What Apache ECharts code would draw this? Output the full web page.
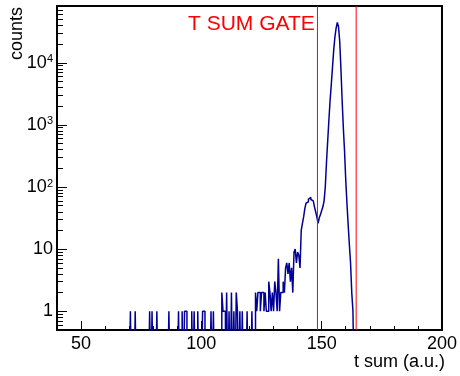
<!DOCTYPE html>
<html>
<head>
<meta charset="utf-8">
<script src="https://cdn.jsdelivr.net/npm/echarts@6/dist/echarts.min.js"></script>
<style>
  html, body { margin: 0; padding: 0; background: #fff; }
  #chart { width: 460px; height: 376px; }
</style>
</head>
<body>
<div id="chart"></div>
<script>
// t-sum histogram: 0.5 a.u. bins on [40, 200]; only non-empty bins are listed
const xRange = [40, 200];
const yRange = [0.5, 82000];
const binWidth = 0.5;

// low edge of each non-empty bin
const filledBinEdges = [
  70.5, 72.5, 78.5, 79.5, 81.5, 86.5, 90.5, 92.0, 93.0, 93.5,
  96.0, 97.0, 98.5, 100.5, 101.0, 104.0, 105.0, 108.5, 109.0, 109.5,
  110.5, 111.5, 112.5, 113.5, 114.5, 115.0, 116.0, 117.0, 119.0, 121.0,
  122.5, 123.0, 123.5, 124.0, 124.5, 125.0, 125.5, 126.0, 126.5, 127.0,
  127.5, 128.0, 128.5, 129.0, 129.5, 130.0, 130.5, 131.0, 131.5, 132.0,
  132.5, 133.0, 133.5, 134.0, 134.5, 135.0, 135.5, 136.0, 136.5, 137.0,
  137.5, 138.0, 138.5, 139.0, 139.5, 140.0, 140.5, 141.0, 141.5, 142.0,
  142.5, 143.0, 143.5, 144.0, 144.5, 145.0, 145.5, 146.0, 146.5, 147.0,
  147.5, 148.0, 148.5, 149.0, 149.5, 150.0, 150.5, 151.0, 151.5, 152.0,
  152.5, 153.0, 153.5, 154.0, 154.5, 155.0, 155.5, 156.0, 156.5, 157.0,
  157.5, 158.0, 158.5, 159.0, 159.5, 160.0, 160.5, 161.0, 161.5, 162.0,
  162.5, 163.0
];
// counts in those bins
const filledBinCounts = [
  1, 1, 1, 1, 1, 1, 1, 1, 1, 1,
  1, 1, 1, 1, 1, 1, 1, 2, 1, 1,
  2, 1, 2, 1, 2, 1, 1, 1, 1, 1,
  2, 1, 2, 2, 1, 2, 2, 1, 2, 1,
  1, 3, 2, 1, 2, 1, 3, 2, 1, 7,
  1, 2, 2, 3, 2, 5, 6, 4, 6, 3,
  5, 2, 9, 10, 6, 9, 8, 5, 20, 26,
  33, 45, 55, 58, 64, 68, 63, 60, 56, 48,
  40, 33, 26, 32, 36, 42, 48, 60, 100, 250,
  550, 1200, 2500, 4500, 8500, 16000, 26000, 36000, 44500, 38000,
  22000, 8000, 2500, 900, 380, 130, 55, 25, 12, 6,
  2, 1
];

const xTickLabels = [50, 100, 150, 200];
const xMinorTicks = [40, 50, 60, 70, 80, 90, 100, 110, 120, 130, 140, 150, 160, 170, 180, 190, 200];
const yTickLabels = [1, 10, 100, 1000, 10000];
const gateEdges = [148.25, 164.33];

const FONT = '"Liberation Sans", Arial, Helvetica, sans-serif';
const LINE_BLUE = '#000099';
const GATE_RED = '#ff0000';

// 2..9 × 10^k between the axis limits
const yMinorTicks = [];
[0.1, 1, 10, 100, 1000, 10000].forEach(d => {
  for (let m = 2; m <= 9; m++) {
    const v = +(m * d).toPrecision(3);
    if (v > yRange[0] && v < yRange[1]) yMinorTicks.push(v);
  }
});

// full bin table → step outline; empty bins drop below the log axis floor
const nBins = Math.round((xRange[1] - xRange[0]) / binWidth);
const counts = new Array(nBins).fill(0);
filledBinEdges.forEach((edge, i) => {
  counts[Math.round((edge - xRange[0]) / binWidth)] = filledBinCounts[i];
});
const belowFloor = 0.05;
const stepData = counts.map((c, i) => [xRange[0] + i * binWidth, c > 0 ? c : belowFloor]);
stepData.push([xRange[1], belowFloor]);

// each gate edge is a full-height vertical line
const gateSeries = gateEdges.map(x => ({
  type: 'line',
  xAxisIndex: 0, yAxisIndex: 0,
  data: [[x, yRange[0]], [x, yRange[1]]],
  showSymbol: false,
  silent: true,
  z: 3,
  lineStyle: { color: GATE_RED, width: 1 },
  emphasis: { disabled: true }
}));

const chart = echarts.init(document.getElementById('chart'), null, { renderer: 'canvas' });

const tickLine = { color: '#000', width: 1 };

chart.setOption({
  animation: false,
  backgroundColor: '#fff',
  title: {
    text: 'T SUM GATE',
    left: 188,
    top: 14,
    padding: 0,
    textStyle: { color: GATE_RED, fontSize: 21, fontWeight: 'normal', fontFamily: FONT }
  },
  grid: {
    left: 57, top: 6, width: 388, height: 324,
    show: true, borderColor: '#000', borderWidth: 2, backgroundColor: 'transparent',
    containLabel: false
  },
  xAxis: [
    {
      type: 'value', min: xRange[0], max: xRange[1], position: 'bottom',
      axisLine: { show: false },
      splitLine: { show: false },
      axisTick: { inside: true, length: 9, customValues: xTickLabels, lineStyle: tickLine },
      axisLabel: { customValues: xTickLabels, fontSize: 18, color: '#000', fontFamily: FONT, margin: 5 }
    },
    {
      type: 'value', min: xRange[0], max: xRange[1], position: 'bottom',
      axisLine: { show: false },
      splitLine: { show: false },
      axisTick: { inside: true, length: 4, customValues: xMinorTicks, lineStyle: tickLine },
      axisLabel: { show: false }
    }
  ],
  yAxis: [
    {
      type: 'log', logBase: 10, min: yRange[0], max: yRange[1], position: 'left',
      axisLine: { show: false },
      splitLine: { show: false },
      axisTick: { inside: true, length: 10, customValues: yTickLabels, lineStyle: tickLine },
      axisLabel: {
        customValues: yTickLabels,
        fontSize: 18, color: '#000', fontFamily: FONT, margin: 4,
        formatter: v => {
          const e = Math.round(Math.log10(v));
          return e <= 1 ? String(Math.round(v)) : '{b|10}{s|' + e + '}';
        },
        rich: {
          b: { fontSize: 18, fontFamily: FONT, color: '#000' },
          s: { fontSize: 11, fontFamily: FONT, color: '#000', verticalAlign: 'top' }
        }
      }
    },
    {
      type: 'log', logBase: 10, min: yRange[0], max: yRange[1], position: 'left',
      axisLine: { show: false },
      splitLine: { show: false },
      axisTick: { inside: true, length: 6, customValues: yMinorTicks, lineStyle: tickLine },
      axisLabel: { show: false }
    }
  ],
  graphic: [
    {
      type: 'text', x: 445, y: 362, silent: true,
      style: { text: 't sum (a.u.)', fill: '#000', fontSize: 18, fontFamily: FONT, align: 'right', verticalAlign: 'middle' }
    },
    {
      type: 'text', x: 17, y: 7, rotation: Math.PI / 2, silent: true,
      style: { text: 'counts', fill: '#000', fontSize: 18, fontFamily: FONT, align: 'right', verticalAlign: 'middle' }
    }
  ],
  series: [
    {
      type: 'line',
      xAxisIndex: 0, yAxisIndex: 0,
      data: stepData,
      step: 'end',
      showSymbol: false,
      clip: true,
      z: 2,
      lineStyle: { color: LINE_BLUE, width: 1.5 },
      emphasis: { disabled: true }
    }
  ].concat(gateSeries)
});
</script>
</body>
</html>
